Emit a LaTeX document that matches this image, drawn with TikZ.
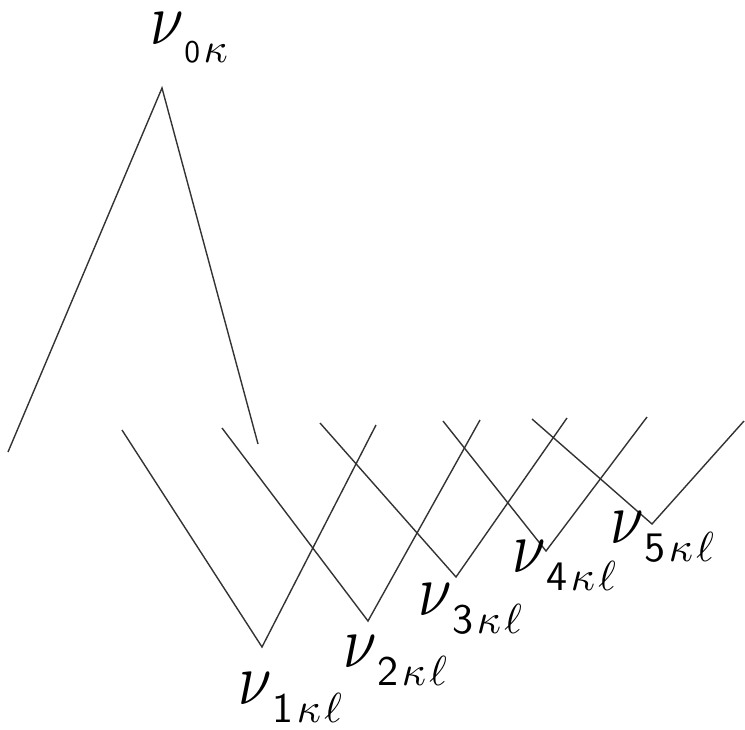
\documentclass[tikz,border=0pt]{standalone}
\usepackage{graphicx}
\newcommand\nulab[2]{\scalebox{6.0}[7.4]{$\nu$}\kern1pt\raisebox{-18pt}{\scalebox{4.2}{\sffamily #1\kern0.8pt$#2$}}}
\tikzset{
  wire/.style={line width=1.4pt, black!80},
  lab/.style={anchor=base west, inner sep=0pt, outer sep=0pt}
}
\begin{document}
\begin{tikzpicture}[x=1pt,y=-1pt]
\useasboundingbox (0,0) rectangle (745,729);
% apex
\coordinate (top) at (162,88);
\coordinate (L0) at (8,452);
\coordinate (R0) at (258,444);
\draw[wire] (L0) -- (top) -- (R0);
% V shapes
\coordinate (a1) at (122,430); \coordinate (b1) at (262,647); \coordinate (c1) at (376,425);
\coordinate (a2) at (222,428); \coordinate (b2) at (368,621); \coordinate (c2) at (480,420);
\coordinate (a3) at (320,423); \coordinate (b3) at (456,577); \coordinate (c3) at (567,418);
\coordinate (a4) at (443,421); \coordinate (b4) at (546,551); \coordinate (c4) at (647,417);
\coordinate (a5) at (532,419); \coordinate (b5) at (652,524); \coordinate (c5) at (744,421);
\foreach \i in {1,...,5} { \draw[wire] (a\i) -- (b\i) -- (c\i); }
% labels
\node[lab] (n0) at (150,44) {\nulab{\scalebox{0.75}{0}}{\kappa}};
\node[lab] (n1) at (238,704) {\nulab{1}{\kappa\kern0.8pt\ell}};
\node[lab] (n2) at (343,667) {\nulab{2}{\kappa\kern0.8pt\ell}};
\node[lab] (n3) at (418,615) {\nulab{3}{\kappa\kern0.8pt\ell}};
\node[lab] (n4) at (512,572) {\nulab{4}{\kappa\kern0.8pt\ell}};
\node[lab] (n5) at (610,543) {\nulab{5}{\kappa\kern0.8pt\ell}};
\end{tikzpicture}
\end{document}
